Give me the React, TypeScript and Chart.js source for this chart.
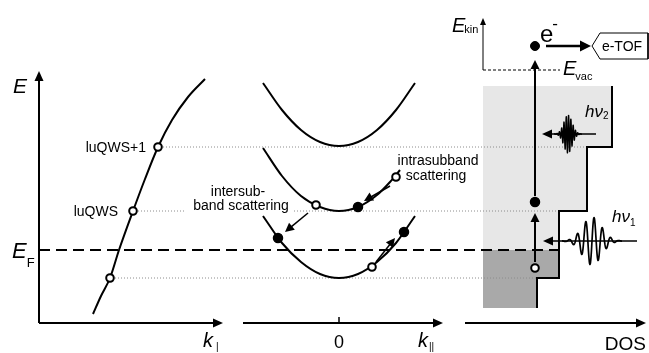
import React, { useEffect, useRef } from "react";
import { Chart, registerables } from "chart.js";

Chart.register(...registerables);

type Pt = [number, number];

// ---------- Data (diagram units: x runs across the three panels k⊥ | k∥ | DOS, y = energy height, screen-downward) ----------
const perpBand: Pt[] = [[93, 314], [101, 296], [110, 278], [119, 250], [133, 211], [145, 179], [158, 147], [172, 120], [188, 97], [205, 79]];
const subband0: Pt[] = [[263, 216], [282, 243], [301, 262], [320, 274], [339, 278], [358, 274], [377, 262], [396, 243], [415, 216]];
const subband1: Pt[] = [[263, 148], [282, 176], [301, 196], [320, 207], [339, 211], [358, 207], [377, 195], [390, 182], [400, 170]];
const subband2: Pt[] = [[263, 83], [282, 110], [301, 130], [320, 142], [339, 146], [358, 142], [377, 130], [396, 110], [415, 83]];

const emptyStates: Pt[] = [[110, 278], [133, 211], [158, 147], [316, 205], [396, 177], [372, 267], [535, 268]];
const occupiedStates: Pt[] = [[358, 207], [278, 238], [404, 232], [535, 202]];
const photoElectron: Pt[] = [[535, 46]];

const levelQWS0: Pt[] = [[115, 278], [537, 278]];
const levelQWS1: Pt[] = [[138, 211], [559, 211]];
const levelQWS2: Pt[] = [[163, 147], [587, 147]];
const fermiLevel: Pt[] = [[39, 250], [559, 250]];
const vacuumLevel: Pt[] = [[483, 70], [560, 70]];

const dosTop = 86;
const fermiE = 250;
const dosUnoccupiedEdge: Pt[] = [[483, 250], [559, 250], [559, 211], [587, 211], [587, 147], [612, 147]];
const dosOccupiedEdge: Pt[] = [[483, 308], [537, 308], [537, 278], [559, 278]];
const dosOutline: Pt[] = [[612, 86], [612, 147], [587, 147], [587, 211], [559, 211], [559, 278], [537, 278], [537, 308]];
const tofBox: Pt[] = [[600, 33], [648, 33], [648, 59], [600, 59], [592, 46], [600, 33]];

// arrows: [x1, y1, x2, y2] (tip at x2, y2)
const axisArrows: number[][] = [[39, 323, 39, 71], [39, 323, 223, 323], [243, 323, 443, 323], [465, 323, 646, 323]];
const scatterArrows: number[][] = [[308, 213, 285, 232], [390, 186, 364, 201], [376, 262, 395, 238]];
const excitationArrows: number[][] = [[535, 262, 535, 213], [535, 196, 535, 60]];
const emissionArrow: number[] = [546, 46, 591, 46];
const pumpArrow: number[] = [637, 241, 543, 241];
const probeArrow: number[] = [596, 134, 542, 134];
const ekinAxis: number[] = [483, 70, 483, 18];
const kZeroTick: number[] = [339, 317, 339, 323];

// wave packets: [centre x, baseline y, amplitude, envelope width, period, half span]
const pumpPulse: number[] = [592, 241, 24, 9.5, 8.3, 30];
const probePulse: number[] = [568, 134, 19, 4.2, 2.3, 14];

const toXY = (a: Pt[]) => a.map(([x, y]) => ({ x, y }));
const SANS = '"Liberation Sans", Arial, Helvetica, sans-serif';

const lineDs = (data: Pt[], extra: any = {}) => ({
  data: toXY(data),
  showLine: true,
  pointRadius: 0,
  pointHoverRadius: 0,
  borderColor: "#000",
  borderWidth: 2,
  fill: false,
  tension: 0,
  clip: false,
  ...extra,
});

const diagramPlugin = {
  id: "diagram",
  afterDatasetsDraw(chart: any) {
    const ctx: CanvasRenderingContext2D = chart.ctx;
    const xs = chart.scales.x;
    const ys = chart.scales.y;
    const X = (v: number) => xs.getPixelForValue(v);
    const Y = (v: number) => ys.getPixelForValue(v);

    const arrow = (a: number[], lw: number, len: number, hw: number) => {
      const [x1, y1, x2, y2] = [X(a[0]), Y(a[1]), X(a[2]), Y(a[3])];
      const ang = Math.atan2(y2 - y1, x2 - x1);
      const bx = x2 - Math.cos(ang) * len;
      const by = y2 - Math.sin(ang) * len;
      ctx.save();
      ctx.strokeStyle = "#000";
      ctx.fillStyle = "#000";
      ctx.lineWidth = lw;
      ctx.beginPath();
      ctx.moveTo(x1, y1);
      ctx.lineTo(bx + Math.cos(ang) * 1, by + Math.sin(ang) * 1);
      ctx.stroke();
      ctx.beginPath();
      ctx.moveTo(x2, y2);
      ctx.lineTo(bx - Math.sin(ang) * hw, by + Math.cos(ang) * hw);
      ctx.lineTo(bx + Math.sin(ang) * hw, by - Math.cos(ang) * hw);
      ctx.closePath();
      ctx.fill();
      ctx.restore();
    };

    const wave = (p: number[], lw: number, step: number) => {
      const [xc, y0, amp, sig, per, half] = p;
      ctx.save();
      ctx.strokeStyle = "#000";
      ctx.lineWidth = lw;
      ctx.lineJoin = "round";
      ctx.beginPath();
      let first = true;
      for (let x = xc - half; x <= xc + half; x += step) {
        const env = Math.exp(-((x - xc) * (x - xc)) / (2 * sig * sig));
        const y = y0 - amp * env * Math.sin((2 * Math.PI * (x - xc)) / per);
        if (first) ctx.moveTo(X(x), Y(y));
        else ctx.lineTo(X(x), Y(y));
        first = false;
      }
      ctx.stroke();
      ctx.restore();
    };

    const txt = (s: string, x: number, y: number, font: string, align: CanvasTextAlign = "left") => {
      ctx.save();
      ctx.font = font;
      ctx.fillStyle = "#000";
      ctx.textAlign = align;
      ctx.textBaseline = "alphabetic";
      ctx.fillText(s, X(x), Y(y));
      ctx.restore();
    };

    // runs of text pieces: [text, font, dy, dx]
    const run = (parts: [string, string, number, number][], x: number, y: number) => {
      let px = X(x);
      const py = Y(y);
      ctx.save();
      ctx.fillStyle = "#000";
      ctx.textAlign = "left";
      ctx.textBaseline = "alphabetic";
      parts.forEach(([s, f, dy, dx]) => {
        ctx.font = f;
        px += dx;
        ctx.fillText(s, px, py + dy);
        px += ctx.measureText(s).width;
      });
      ctx.restore();
    };

    // axes
    axisArrows.forEach((a) => arrow(a, 2, 10, 4.5));
    ctx.save();
    ctx.strokeStyle = "#000";
    ctx.lineWidth = 1.5;
    ctx.beginPath();
    ctx.moveTo(X(kZeroTick[0]), Y(kZeroTick[1]));
    ctx.lineTo(X(kZeroTick[2]), Y(kZeroTick[3]));
    ctx.stroke();
    ctx.restore();
    arrow(ekinAxis, 1, 7, 3);

    // scattering and excitation arrows
    scatterArrows.forEach((a) => arrow(a, 1.5, 9, 4.5));
    excitationArrows.forEach((a) => arrow(a, 2, 9, 4.5));
    arrow(emissionArrow, 2.5, 11, 5.5);
    arrow(pumpArrow, 1.5, 10, 4.5);
    arrow(probeArrow, 1.5, 10, 4.5);

    // light pulses
    wave(pumpPulse, 1.7, 0.3);
    wave(probePulse, 1.4, 0.12);

    // white patch behind the label crossing the level line
    ctx.save();
    ctx.fillStyle = "#fff";
    ctx.fillRect(X(186), Y(199), X(293) - X(186), Y(214) - Y(199));
    ctx.restore();

    // labels
    txt("E", 13, 93, `italic 21px ${SANS}`);
    run([["E", `italic 22px ${SANS}`, 0, 0], ["F", `13px ${SANS}`, 9, 0]], 12, 258);
    txt("luQWS+1", 146, 152, `14px ${SANS}`, "right");
    txt("luQWS", 118, 216, `14px ${SANS}`, "right");
    txt("intersub-", 238, 196, `14px ${SANS}`, "center");
    txt("band scattering", 241, 210, `14px ${SANS}`, "center");
    txt("intrasubband", 438, 165, `14px ${SANS}`, "center");
    txt("scattering", 436, 180, `14px ${SANS}`, "center");
    run([["k", `italic 20px ${SANS}`, 0, 0], ["|", `10px ${SANS}`, 3, 3]], 203, 347);
    txt("0", 339, 348, `18px ${SANS}`, "center");
    run([["k", `italic 20px ${SANS}`, 0, 0], ["||", `10px ${SANS}`, 3, 1]], 418, 347);
    txt("DOS", 646, 350, `19px ${SANS}`, "right");
    run([["E", `italic 20px ${SANS}`, 0, 0], ["kin", `11px ${SANS}`, 1, -1]], 452, 32);
    run([["E", `italic 20px ${SANS}`, 0, 0], ["vac", `11px ${SANS}`, 5, -1]], 563, 75);
    run([["e", `24px ${SANS}`, 0, 0], ["-", `17px ${SANS}`, -13, -1]], 540, 42);
    txt("e-TOF", 622, 51, `14px ${SANS}`, "center");
    run([["hν", `italic 17px ${SANS}`, 0, 0], ["2", `10px ${SANS}`, 2, 0]], 585, 117);
    run([["hν", `italic 17px ${SANS}`, 0, 0], ["1", `10px ${SANS}`, 4, 0]], 612, 222);
  },
};

export default function App() {
  const ref = useRef<HTMLCanvasElement | null>(null);

  useEffect(() => {
    if (!ref.current) return;
    const chart = new Chart(ref.current, {
      type: "scatter",
      data: {
        datasets: [
          // DOS fills (drawn first)
          lineDs(dosUnoccupiedEdge, { order: 20, borderColor: "rgba(0,0,0,0)", borderWidth: 1, backgroundColor: "#e7e7e7", fill: { value: dosTop } }),
          lineDs(dosOccupiedEdge, { order: 19, borderColor: "rgba(0,0,0,0)", borderWidth: 1, backgroundColor: "#a9a9a9", fill: { value: fermiE } }),
          // level guide lines
          lineDs(levelQWS0, { order: 15, borderColor: "#8c8c8c", borderWidth: 1, borderDash: [1, 2] }),
          lineDs(levelQWS1, { order: 15, borderColor: "#8c8c8c", borderWidth: 1, borderDash: [1, 2] }),
          lineDs(levelQWS2, { order: 15, borderColor: "#8c8c8c", borderWidth: 1, borderDash: [1, 2] }),
          lineDs(fermiLevel, { order: 14, borderWidth: 2, borderDash: [11, 6] }),
          lineDs(vacuumLevel, { order: 14, borderWidth: 1, borderDash: [3, 2] }),
          lineDs(dosOutline, { order: 13, borderWidth: 2 }),
          lineDs(tofBox, { order: 13, borderWidth: 1 }),
          // bands
          lineDs(perpBand, { order: 10, cubicInterpolationMode: "monotone" }),
          lineDs(subband0, { order: 10, cubicInterpolationMode: "monotone" }),
          lineDs(subband1, { order: 10, cubicInterpolationMode: "monotone" }),
          lineDs(subband2, { order: 10, cubicInterpolationMode: "monotone" }),
          // states
          {
            order: 2,
            data: toXY(emptyStates),
            showLine: false,
            pointRadius: 3.8,
            pointHoverRadius: 3.8,
            pointBorderWidth: 2,
            pointBackgroundColor: "#fff",
            pointBorderColor: "#000",
            clip: false,
          },
          {
            order: 1,
            data: toXY(occupiedStates),
            showLine: false,
            pointRadius: 4.5,
            pointHoverRadius: 4.5,
            pointBorderWidth: 1.5,
            pointBackgroundColor: "#000",
            pointBorderColor: "#000",
            clip: false,
          },
          {
            order: 1,
            data: toXY(photoElectron),
            showLine: false,
            pointRadius: 4.5,
            pointHoverRadius: 4.5,
            pointBorderWidth: 1,
            pointBackgroundColor: "#000",
            pointBorderColor: "#000",
            clip: false,
          },
        ] as any,
      },
      options: {
        animation: false,
        responsive: false,
        devicePixelRatio: 1,
        layout: { padding: 0, autoPadding: false },
        events: [],
        plugins: { legend: { display: false }, tooltip: { enabled: false } },
        scales: {
          x: { type: "linear", min: 0, max: 649, display: false },
          y: { type: "linear", min: 0, max: 353, reverse: true, display: false },
        },
      } as any,
      plugins: [diagramPlugin],
    });
    return () => chart.destroy();
  }, []);

  return (
    <div style={{ position: "fixed", left: 0, top: 0, width: 649, height: 353, background: "#fff" }}>
      <canvas ref={ref} width={649} height={353} style={{ display: "block", width: 649, height: 353 }} />
    </div>
  );
}
